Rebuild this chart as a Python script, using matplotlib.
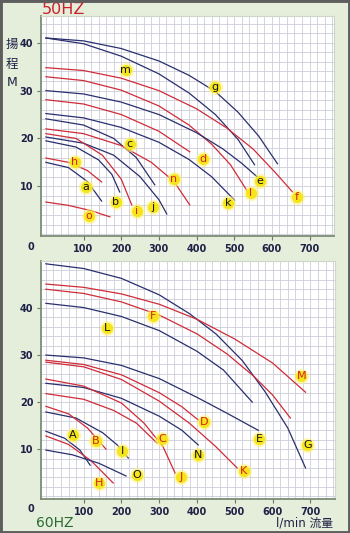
import matplotlib.pyplot as plt
from matplotlib.patches import Rectangle

# 50 Hz pump curves: flow (l/min) and head (m)
q50 = {
    "g": [0, 100, 200, 300, 380, 450, 510, 565, 615],
    "m": [0, 100, 200, 300, 380, 450, 510, 554],
    "f": [0, 100, 200, 300, 400, 480, 550, 610, 655],
    "l": [0, 100, 200, 300, 380, 440, 490, 533],
    "e": [0, 100, 200, 300, 400, 470, 520, 562],
    "d": [0, 100, 200, 300, 382],
    "k": [0, 100, 200, 300, 380, 440, 501],
    "c": [0, 100, 180, 240, 289],
    "n": [0, 100, 200, 280, 340, 382],
    "j": [0, 100, 180, 250, 300, 321],
    "i": [0, 80, 150, 200, 228],
    "b": [0, 80, 140, 175, 196],
    "h": [0, 60, 110, 148],
    "a": [0, 60, 110, 148],
    "o": [0, 60, 120, 170],
}
h50 = {
    "g": [41.0, 40.4, 38.8, 36.2, 33.2, 29.8, 25.5, 20.5, 14.7],
    "m": [41.0, 39.8, 37.2, 33.5, 29.5, 25.0, 19.8, 14.5],
    "f": [34.8, 34.2, 32.6, 30.0, 26.2, 22.2, 17.8, 12.8, 8.8],
    "l": [32.9, 32.1, 30.1, 26.8, 22.8, 18.8, 14.5, 9.2],
    "e": [30.0, 29.3, 27.6, 25.0, 21.2, 17.8, 14.8, 11.9],
    "d": [28.1, 27.2, 25.0, 21.5, 17.2],
    "k": [25.2, 24.3, 22.3, 19.2, 15.6, 12.0, 7.1],
    "c": [24.1, 22.8, 20.0, 16.0, 10.3],
    "n": [22.0, 21.0, 18.5, 15.0, 11.0, 6.1],
    "j": [20.3, 19.0, 16.5, 12.0, 7.2, 4.2],
    "i": [21.0, 20.0, 16.5, 11.5, 6.1],
    "b": [19.5, 18.2, 15.5, 12.5, 8.8],
    "h": [15.9, 15.0, 13.3, 10.9],
    "a": [15.0, 13.9, 11.0, 6.9],
    "o": [6.7, 6.0, 4.9, 3.6],
}
red50 = ["f", "l", "d", "n", "i", "h", "o"]
lab50 = {
    "m": (212, 34.4), "g": (448, 30.8), "c": (223, 18.9), "d": (416, 15.7),
    "n": (340, 11.5), "h": (77, 15.1), "a": (106, 9.9), "b": (186, 6.7),
    "i": (241, 4.8), "j": (284, 5.7), "o": (114, 3.8), "k": (483, 6.5),
    "l": (544, 8.6), "e": (568, 11.1), "f": (666, 7.8),
}

# 60 Hz pump curves
q60 = {
    "G": [0, 100, 200, 300, 380, 450, 520, 580, 640, 687],
    "M": [0, 100, 200, 300, 400, 500, 600, 687],
    "F": [0, 100, 200, 300, 400, 480, 550, 600, 647],
    "L": [0, 100, 200, 300, 400, 470, 546],
    "E": [0, 100, 200, 300, 400, 480, 562],
    "D": [0, 100, 200, 300, 360, 403],
    "K": [0, 100, 200, 300, 380, 450, 506],
    "N": [0, 100, 200, 300, 360, 403],
    "J": [0, 100, 200, 260, 310, 342],
    "C": [0, 100, 180, 240, 294],
    "I": [0, 80, 150, 190, 218],
    "B": [0, 60, 110, 159],
    "A": [0, 50, 90, 117],
    "H": [0, 60, 120, 178],
    "O": [0, 70, 140, 212],
}
h60 = {
    "G": [49.4, 48.4, 46.3, 42.8, 38.8, 34.5, 28.8, 22.2, 14.5, 6.0],
    "M": [45.1, 44.4, 43.0, 40.8, 37.6, 33.4, 28.3, 22.1],
    "F": [44.0, 43.1, 41.3, 38.5, 34.5, 30.2, 25.5, 21.5, 16.6],
    "L": [41.0, 40.1, 38.2, 35.2, 30.8, 26.8, 20.0],
    "E": [30.0, 29.4, 27.8, 25.0, 21.0, 17.6, 14.0],
    "D": [28.9, 28.0, 25.8, 22.0, 19.0, 16.2],
    "K": [28.5, 27.5, 24.8, 20.2, 15.5, 10.5, 6.0],
    "N": [24.0, 23.1, 20.8, 17.0, 14.0, 10.9],
    "J": [24.9, 23.4, 19.8, 15.5, 10.5, 4.9],
    "C": [21.8, 20.6, 18.2, 15.5, 11.3],
    "I": [17.9, 16.6, 13.5, 10.8, 8.1],
    "B": [19.1, 17.5, 14.5, 10.0],
    "A": [13.8, 12.3, 9.8, 6.6],
    "H": [12.8, 11.0, 7.5, 2.8],
    "O": [9.8, 8.8, 7.0, 4.3],
}
red60 = ["M", "F", "D", "K", "C", "J", "B", "H"]
lab60 = {
    "L": (162, 35.7), "F": (284, 38.3), "M": (676, 25.5), "G": (692, 10.9),
    "E": (565, 12.1), "D": (419, 15.7), "C": (308, 12.1), "K": (523, 5.3),
    "N": (403, 8.7), "J": (358, 4.0), "A": (72, 13.0), "B": (133, 11.7),
    "I": (202, 9.6), "O": (241, 4.5), "H": (141, 2.8),
}

xticks = [100, 200, 300, 400, 500, 600, 700]
yticks = [10, 20, 30, 40]

NAVY = "#2a2f6e"
RED = "#cf2c38"
TXT = "#1e2246"

plt.rcParams["font.family"] = ["DejaVu Sans", "Noto Sans CJK JP"]

fig = plt.figure(figsize=(3.5, 5.33), dpi=100, facecolor="#e4eedb")
fig.patches.append(Rectangle((0, 0), 1, 1, transform=fig.transFigure, fill=False,
                             edgecolor="#5e5e5e", linewidth=3.5, zorder=10))

ax1 = fig.add_axes([41 / 350, 1 - 236 / 533, 293 / 350, 220 / 533])
ax2 = fig.add_axes([41 / 350, 1 - 499 / 533, 294 / 350, 238 / 533])


def setup(ax, ylim):
    ax.set_facecolor("white")
    ax.set_xlim(-13, 765)
    ax.set_ylim(*ylim)
    ax.set_xticks(range(0, 761, 20), minor=True)
    ax.set_yticks(range(0, int(ylim[1]) + 1, 2), minor=True)
    ax.set_xticks(xticks)
    ax.set_yticks(yticks)
    ax.grid(which="both", color="#cdcdda", linewidth=0.6)
    ax.tick_params(which="minor", length=0)
    ax.tick_params(which="major", length=3, width=0.8, color="#6a7a66",
                   labelsize=7, labelcolor=TXT, pad=2.5)
    for t in ax.get_xticklabels() + ax.get_yticklabels():
        t.set_fontweight("bold")
    for s in ("left", "bottom"):
        ax.spines[s].set_color("#7c8c74")
        ax.spines[s].set_linewidth(1.3)
    for s in ("top", "right"):
        ax.spines[s].set_color("#cfd8c8")
        ax.spines[s].set_linewidth(0.8)
    ax.text(-30, -1.7, "0", ha="right", va="top", fontsize=7,
            fontweight="bold", color=TXT, clip_on=False)


def draw(ax, qs, hs, reds, labels):
    for key in qs:
        col = RED if key in reds else NAVY
        ax.plot(qs[key], hs[key], color=col, linewidth=0.9, zorder=3)
    for key, (x, y) in labels.items():
        col = "#d42020" if key in reds else "#151515"
        ax.scatter([x], [y], s=120, color="#fff27a", alpha=0.55, linewidths=0, zorder=4)
        ax.scatter([x], [y], s=65, color="#f5e51a", linewidths=0, zorder=5)
        ax.text(x, y, key, ha="center", va="center", fontsize=8,
                color=col, zorder=6)


setup(ax1, (-0.4, 45.6))
setup(ax2, (-0.6, 50.0))
draw(ax1, q50, h50, red50, lab50)
draw(ax2, q60, h60, red60, lab60)

fig.text(42 / 350, 1 - 9 / 533, "50HZ", color="#cc1f2a", fontsize=11.5, va="center")
fig.text(36 / 350, 1 - 523 / 533, "60HZ", color="#2a6a32", fontsize=10, va="center")
fig.text(333 / 350, 1 - 523 / 533, "l/min 流量", color=TXT, fontsize=8.5,
         ha="right", va="center")
for x, y, ch in [(12, 44, "揚"), (12, 64, "程"), (12, 83, "M")]:
    fig.text(x / 350, 1 - y / 533, ch, color=TXT, fontsize=9,
             ha="center", va="center")

fig.savefig("out.png", dpi=100, facecolor=fig.get_facecolor())
